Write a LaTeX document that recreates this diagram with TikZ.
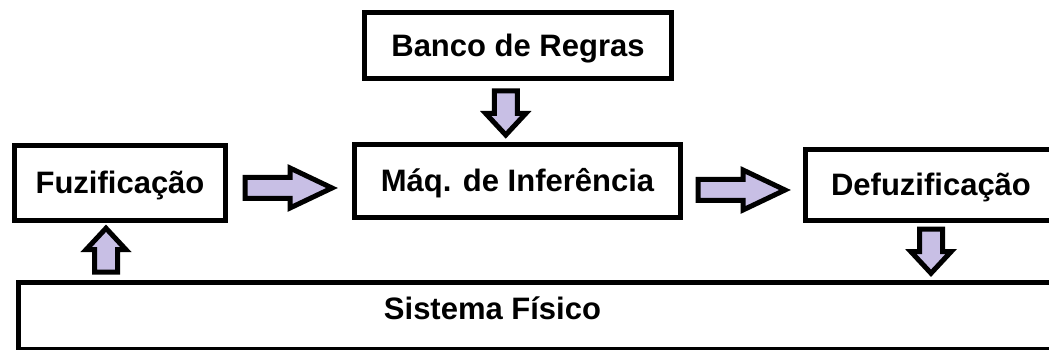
\documentclass[tikz,border=0pt]{standalone}
\usepackage{fontspec}
\setmainfont{Liberation Sans}
\usepackage{tikz}
\usetikzlibrary{calc}

\definecolor{arrowfill}{RGB}{200,191,229}

\tikzset{
    block/.style={draw=black, line width=5pt, fill=white, inner sep=0pt,
        font=\fontsize{31}{37}\selectfont\bfseries, text height=22pt, text depth=0pt},
    label/.style={inner sep=0pt, font=\fontsize{31}{37}\selectfont\bfseries,
        text height=22pt, text depth=0pt},
    arrowline/.style={draw=black, fill=arrowfill, line width=5pt, line join=miter},
    longarrow/.pic={ % wide arrow between the boxes of one row
        \draw[arrowline] (-45,-10.5) -- (0,-10.5) -- (0,-20) -- (42,0)
            -- (0,20) -- (0,10.5) -- (-45,10.5) -- cycle;
    },
    shortarrow/.pic={ % arrow between the rows
        \draw[arrowline] (-22.5,-11.5) -- (0,-11.5) -- (0,-20) -- (21.5,0)
            -- (0,20) -- (0,11.5) -- (-22.5,11.5) -- cycle;
    }
}

\begin{document}
\begin{tikzpicture}[x=1pt, y=1pt]
    \useasboundingbox (0,0) rectangle (1049,350);
    \clip (0,0) rectangle (1049,350); % the right boxes run off the page

    % the boxes
    \node[block, minimum width=307, minimum height=66] (banco) at (518,304.5) {Banco de Regras};
    \node[block, minimum width=326, minimum height=73] (maq) at (517.5,169) {Máq. de Inferência};
    \node[block, minimum width=211, minimum height=75] (fuz) at (120,167) {Fuzificação};
    \node[block, minimum width=251, minimum height=71] (defuz) at (931,165) {Defuzificação};
    \node[block, minimum width=1060, minimum height=67, anchor=north west] (sis) at (15.5,69.5) {};
    \node[label] (sistext) at (492.5,41) {Sistema Físico};

    % the arrows
    \pic at ($(fuz.east)!0.5!(maq.west)+(0,-6)$) {longarrow};
    \pic at ($(maq.east)!0.5!(defuz.west)+(0,-7)$) {longarrow};
    \pic[rotate=-90] at ($(banco.south)!0.5!(maq.north)+(-12,-2)$) {shortarrow};
    \pic[rotate=-90] at ($(defuz.south)!0.5!(defuz.south |- sis.north)$) {shortarrow};
    \pic[rotate=90] at ($(fuz.south)!0.5!(fuz.south |- sis.north)+(-14,2)$) {shortarrow};
\end{tikzpicture}
\end{document}
